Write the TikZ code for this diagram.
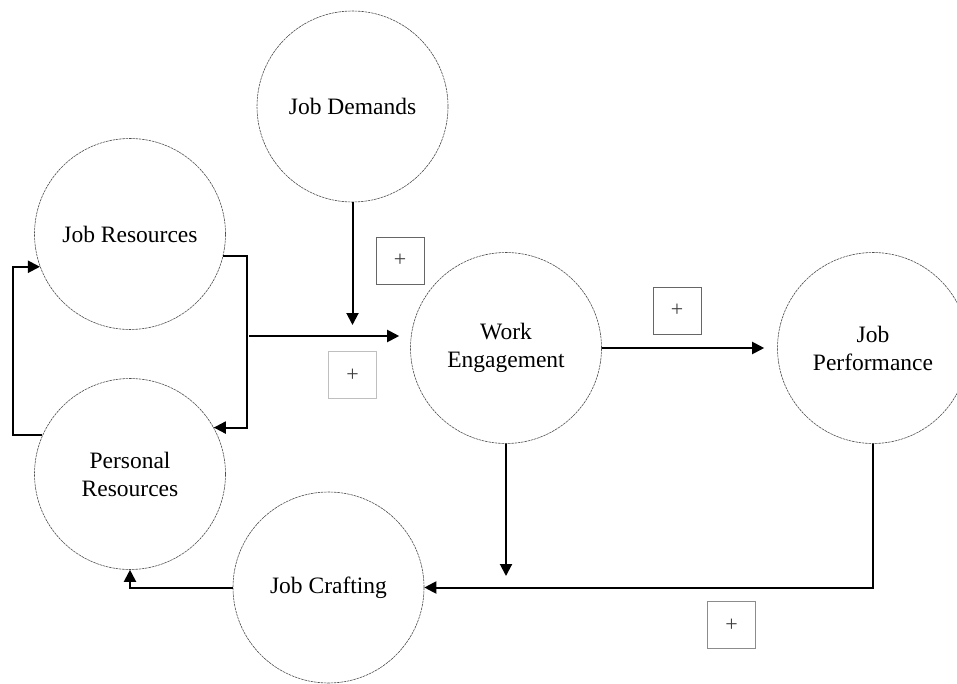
\documentclass[tikz,border=0pt]{standalone}
\usepackage{fontspec}
\setmainfont{Liberation Serif}
\usetikzlibrary{arrows.meta}
\begin{document}
\begin{tikzpicture}[x=1pt,y=-1pt,
  bubble/.style={circle, draw=black!70, line width=0.6pt, dash pattern=on 2.5pt off 0.8pt,
    minimum size=191pt, inner sep=0pt, align=center,
    font=\fontsize{23.5}{28}\selectfont},
  plusbox/.style={draw=black!60, line width=0.8pt, minimum width=48pt, minimum height=47pt,
    inner sep=0pt, font=\fontsize{22}{24}\selectfont, text=black!75},
  conn/.style={line width=2pt, line join=miter},
  arr/.style={conn, -{Triangle[length=12pt,width=12pt]}}]
\useasboundingbox (0,0) rectangle (957,684);
\fill[white] (0,0) rectangle (957,684);

\node[bubble] (jd) at (352.5,106.5) {Job Demands};
\node[bubble] (jr) at (130,234) {Job Resources};
\node[bubble] (pr) at (130,474) {Personal\\Resources};
\node[bubble] (we) at (506,348) {Work\\Engagement};
\node[bubble] (jp) at (873,348) {Job\\Performance};
\node[bubble] (jc) at (328.5,587.5) {Job Crafting};

\node[plusbox] (b1) at (400,260.5) {+};
\node[plusbox, draw=black!25] (b2) at (352.5,375) {+};
\node[plusbox] (b3) at (677,310.5) {+};
\node[plusbox, draw=black!45] (b4) at (731.5,625) {+};

\coordinate (jx) at (247,0);
\coordinate (lx) at (13,0);
\coordinate (m) at (249,336);
\coordinate (jdend) at (352.5,325);
\coordinate (weend) at (506,576);
\coordinate (by) at (0,587.5);

% Job Resources -> Personal Resources
\draw[arr] (jr.-13) -- (jr.-13 -| jx) -- (pr.29 -| jx) -- (pr.29);
% Personal Resources -> Job Resources (loop)
\draw[arr] (pr.156) -- (pr.156 -| lx) -- (jr.200 -| lx) -- (jr.200);
% Job Demands down
\draw[arr] (jd.south) -- (jdend);
% into Work Engagement
\draw[arr, shorten >=11pt] (m) -- (m -| we.west);
% Work Engagement -> Job Performance
\draw[arr, shorten >=13pt] (we.east) -- (jp.west);
% Work Engagement down
\draw[arr] (we.south) -- (weend);
% Job Performance -> Job Crafting
\draw[arr] (jp.south) -- (jp.south |- by) -- (jc.east);
% Job Crafting -> Personal Resources
\draw[arr] (jc.west) -- (jc.west -| pr.south) -- (pr.south);
\end{tikzpicture}
\end{document}
